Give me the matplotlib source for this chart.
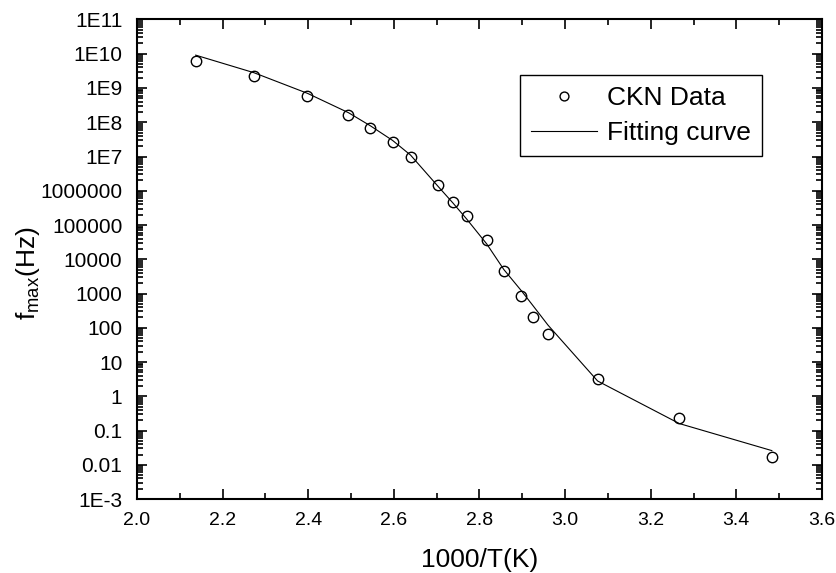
import matplotlib
matplotlib.use('Agg')
import matplotlib.pyplot as plt
from matplotlib.ticker import FixedLocator, FixedFormatter, LogLocator, MultipleLocator, NullFormatter

plt.rcParams['font.family'] = 'Liberation Sans'
plt.rcParams['mathtext.fontset'] = 'custom'
plt.rcParams['mathtext.rm'] = 'Liberation Sans'

# 1000/T (K^-1) and measured peak frequency
inv_temp = [2.137, 2.273, 2.398, 2.494, 2.545, 2.597, 2.639, 2.702, 2.738, 2.770,
            2.817, 2.857, 2.898, 2.924, 2.960, 3.076, 3.267, 3.483]
f_data = [6.3e9, 2.2e9, 6.0e8, 1.66e8, 6.9e7, 2.7e7, 9.5e6, 1.45e6, 4.6e5, 1.8e5,
          3.7e4, 4.4e3, 8.7e2, 2.1e2, 64, 3.2, 0.24, 0.017]
f_fit = [9.1e9, 2.8e9, 7.0e8, 1.9e8, 7.9e7, 2.95e7, 1.1e7, 1.4e6, 4.4e5, 1.5e5,
         2.8e4, 5.0e3, 1.2e3, 4.6e2, 1.2e2, 2.8, 0.16, 0.026]

ytick_vals = [1e-3, 1e-2, 1e-1, 1, 10, 100, 1e3, 1e4, 1e5, 1e6, 1e7, 1e8, 1e9, 1e10, 1e11]
ytick_labels = ['1E-3', '0.01', '0.1', '1', '10', '100', '1000', '10000', '100000',
                '1000000', '1E7', '1E8', '1E9', '1E10', '1E11']

fig = plt.figure(figsize=(8.37, 5.73), dpi=100)
ax = fig.add_axes([0.1637, 0.129, 0.8183, 0.837])

ax.plot(inv_temp, f_data, 'o', mfc='none', mec='black', mew=1.0, ms=7.5,
        label='CKN Data', zorder=3)
ax.plot(inv_temp, f_fit, '-', color='black', lw=0.8, label='Fitting curve')

ax.set_yscale('log')
ax.set_xlim(2.0, 3.6)
ax.set_ylim(1e-3, 1e11)

ax.yaxis.set_major_locator(FixedLocator(ytick_vals))
ax.yaxis.set_major_formatter(FixedFormatter(ytick_labels))
ax.yaxis.set_minor_locator(LogLocator(base=10, subs=range(2, 10), numticks=30))
ax.yaxis.set_minor_formatter(NullFormatter())
ax.xaxis.set_major_locator(MultipleLocator(0.2))
ax.xaxis.set_minor_locator(MultipleLocator(0.1))
ax.xaxis.set_major_formatter(plt.FuncFormatter(lambda v, p: f'{v:.1f}'))

ax.tick_params(which='both', direction='in', top=True, right=True, width=1.2,
               colors='black')
ax.tick_params(which='major', length=7.5)
ax.tick_params(which='minor', length=4.5)
ax.tick_params(axis='x', which='major', labelsize=14, pad=9)
ax.tick_params(axis='y', which='major', labelsize=15, pad=10.5)
for s in ax.spines.values():
    s.set_linewidth(1.5)

ax.set_xlabel('1000/T(K)', fontsize=19, labelpad=14)
ax.set_ylabel(r'f$_{\mathrm{max}}$(Hz)', fontsize=19)
ax.yaxis.set_label_coords(-0.139, 0.47)

leg = ax.legend(loc='upper right', bbox_to_anchor=(0.913, 0.884), fontsize=19,
                frameon=True, fancybox=False, edgecolor='black', framealpha=1,
                handlelength=2.5, handletextpad=0.38, borderpad=0.42,
                labelspacing=0.42, markerscale=0.85, borderaxespad=0)
leg.get_frame().set_linewidth(1.0)

fig.savefig('out.png', dpi=100)
